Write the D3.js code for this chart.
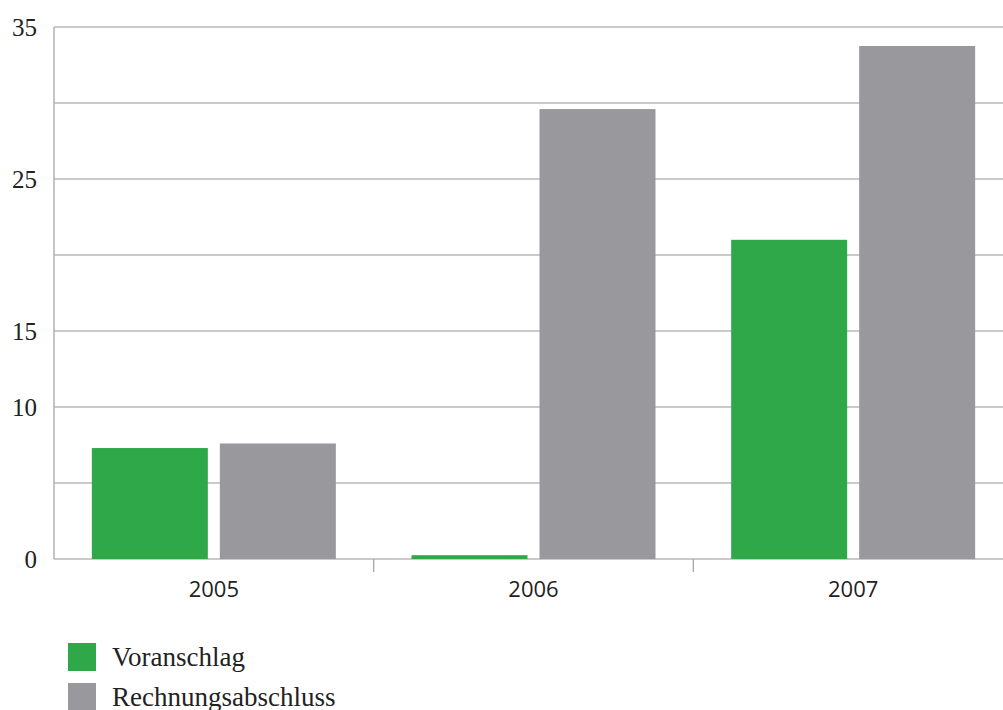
<!doctype html>
<html>
<head>
  <meta charset="utf-8">
  <title>Voranschlag / Rechnungsabschluss</title>
  <style>
    body { margin: 0; background: #fff; }
    svg { display: block; }
  </style>
</head>
<body>
  <div id="vis"></div>
  <script src="https://cdn.jsdelivr.net/npm/d3@7"></script>
  <script>
    var years = ["2005", "2006", "2007"];
    var seriesNames = ["Voranschlag", "Rechnungsabschluss"];
    var voranschlag = [7.3, 0.25, 21.0];
    var rechnungsabschluss = [7.6, 29.6, 33.75];
    var gridValues = [0, 5, 10, 15, 20, 25, 30, 35];
    var tickLabels = [0, 10, 15, 25, 35];
    var colors = ["#2fa84a", "#99989d"];

    var w = 1003, h = 710;
    // plot edges (note: "top" is a reserved window global, so prefix them)
    var plotLeft = 54, plotTop = 27, plotBottom = 559, plotRight = 1013;

    var svg = d3.select("#vis").append("svg")
      .attr("width", w)
      .attr("height", h);

    var x = d3.scaleBand()
      .domain(years)
      .range([plotLeft, plotRight]);

    var xInner = d3.scaleBand()
      .domain(seriesNames)
      .range([0, 244])
      .paddingInner(12 / 128);

    var y = d3.scaleLinear()
      .domain([0, 35])
      .range([plotBottom, plotTop]);

    // gridlines
    svg.selectAll("line.grid")
      .data(gridValues)
      .enter()
      .append("line")
      .attr("class", "grid")
      .attr("x1", plotLeft)
      .attr("x2", w)
      .attr("y1", function(d){ return y(d); })
      .attr("y2", function(d){ return y(d); })
      .attr("stroke", "#b9b9bb")
      .attr("stroke-width", 1.3);

    // y axis line
    svg.append("line")
      .attr("x1", plotLeft).attr("x2", plotLeft)
      .attr("y1", y(35)).attr("y2", y(0))
      .attr("stroke", "#a8a8aa")
      .attr("stroke-width", 1.3);

    // category separators under the axis
    svg.selectAll("line.sep")
      .data(years.slice(1))
      .enter()
      .append("line")
      .attr("class", "sep")
      .attr("x1", function(d){ return x(d); })
      .attr("x2", function(d){ return x(d); })
      .attr("y1", y(0))
      .attr("y2", y(0) + 13)
      .attr("stroke", "#a8a8aa")
      .attr("stroke-width", 1.3);

    // y labels
    svg.selectAll("text.ylab")
      .data(tickLabels)
      .enter()
      .append("text")
      .attr("class", "ylab")
      .attr("x", 37)
      .attr("y", function(d){ return y(d); })
      .attr("dy", "0.35em")
      .attr("text-anchor", "end")
      .attr("font-family", "'Liberation Serif', 'DejaVu Serif', serif")
      .attr("font-size", 25)
      .attr("fill", "#222")
      .text(function(d){ return d; });

    // x labels
    svg.selectAll("text.xlab")
      .data(years)
      .enter()
      .append("text")
      .attr("class", "xlab")
      .attr("x", function(d){ return x(d) + x.bandwidth() / 2; })
      .attr("y", 597)
      .attr("text-anchor", "middle")
      .attr("font-family", "'Open Sans', 'DejaVu Sans', sans-serif")
      .attr("font-size", 22)
      .attr("fill", "#222")
      .text(function(d){ return d; });

    // bars
    var rows = years.map(function(yr, i){
      return { year: yr, values: [voranschlag[i], rechnungsabschluss[i]] };
    });

    var groups = svg.selectAll("g.year")
      .data(rows)
      .enter()
      .append("g")
      .attr("class", "year")
      .attr("transform", function(d){
        return "translate(" + (x(d.year) + x.bandwidth() / 2 - 122) + ",0)";
      });

    groups.selectAll("rect")
      .data(function(d){
        return d.values.map(function(v, j){ return { name: seriesNames[j], value: v, j: j }; });
      })
      .enter()
      .append("rect")
      .attr("x", function(d){ return xInner(d.name); })
      .attr("width", xInner.bandwidth())
      .attr("y", function(d){ return y(d.value); })
      .attr("height", function(d){ return y(0) - y(d.value); })
      .attr("fill", function(d){ return colors[d.j]; });

    // legend
    var legend = svg.selectAll("g.legend")
      .data(seriesNames)
      .enter()
      .append("g")
      .attr("class", "legend")
      .attr("transform", function(d, i){ return "translate(68," + (643 + i * 40) + ")"; });

    legend.append("rect")
      .attr("width", 28)
      .attr("height", 28)
      .attr("fill", function(d, i){ return colors[i]; });

    legend.append("text")
      .attr("x", 44)
      .attr("y", 23)
      .attr("font-family", "'Liberation Serif', 'DejaVu Serif', serif")
      .attr("font-size", 27)
      .attr("fill", "#222")
      .text(function(d){ return d; });
  </script>
</body>
</html>
